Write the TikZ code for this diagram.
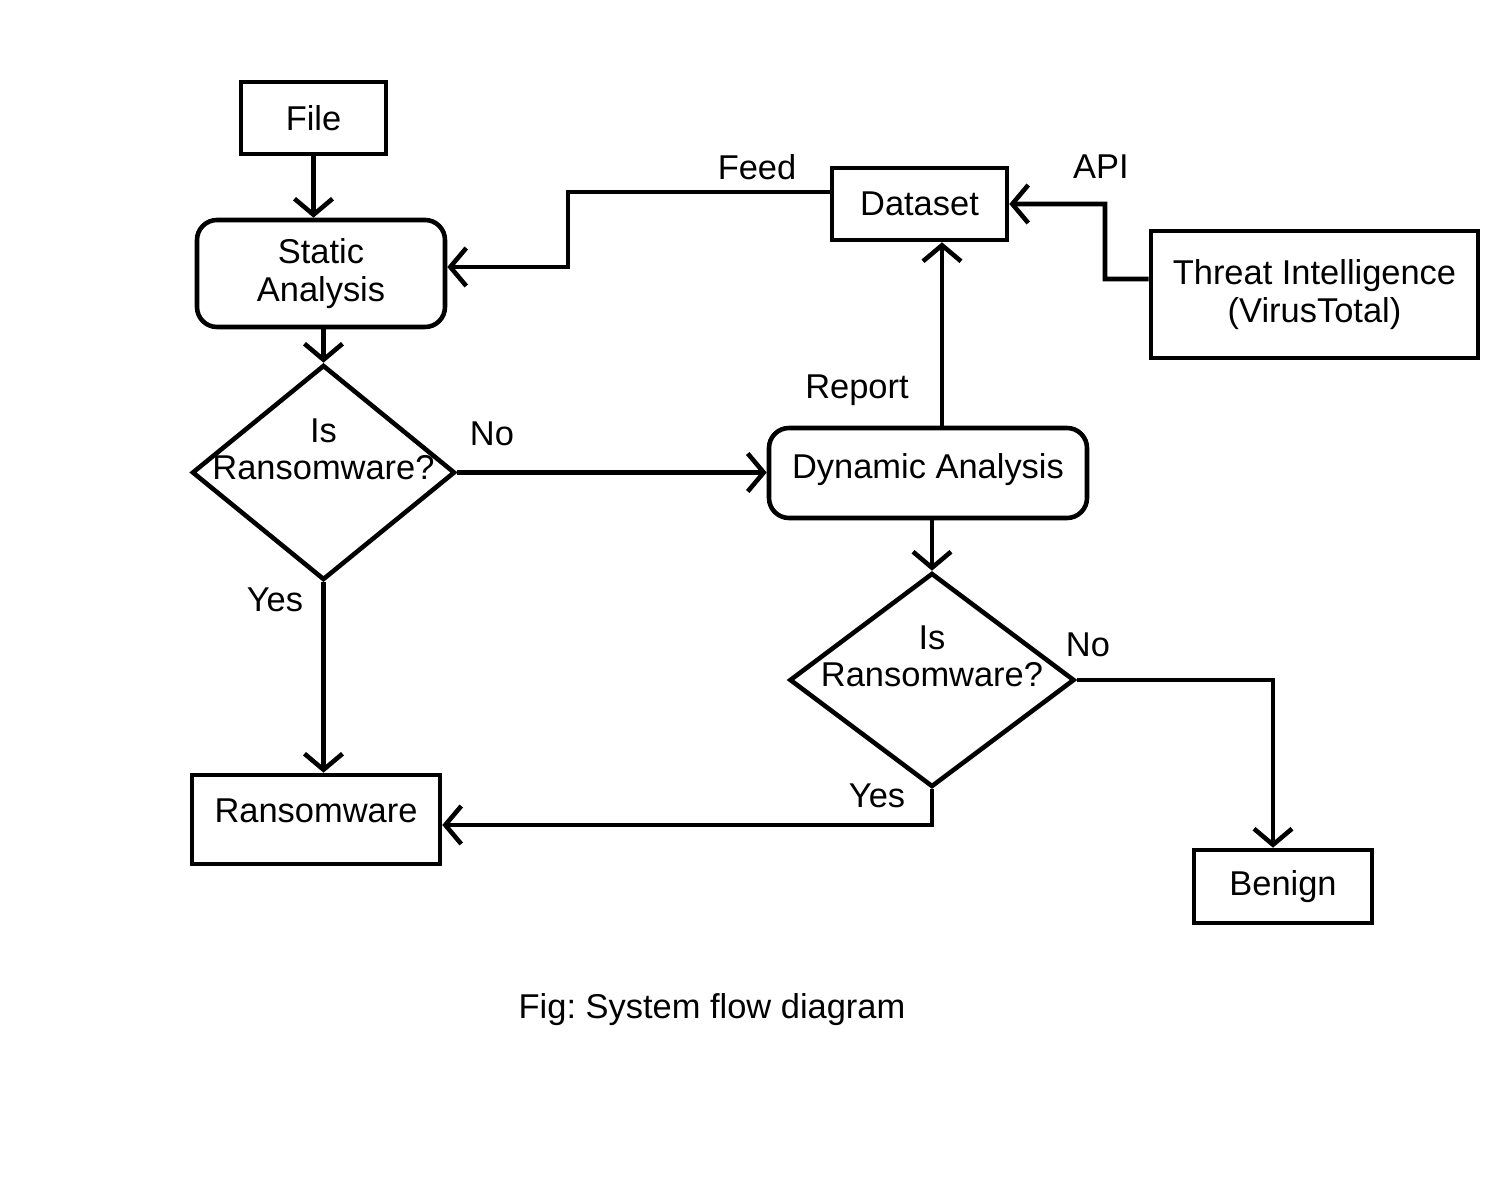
\documentclass[tikz,border=0pt]{standalone}
\usepackage{fontspec}
\setmainfont{Liberation Sans}
\usetikzlibrary{arrows.meta,shapes.geometric}
\frenchspacing

\begin{document}
\begin{tikzpicture}[>={Straight Barb[length=0.16cm,width=0.38cm]},
                    every node/.style={font=\fontsize{9.8}{10.6}\selectfont},
                    box/.style={draw,line width=1.3pt,inner sep=0pt},
                    roundbox/.style={box,rounded corners=0.2cm},
                    decision/.style={draw,line width=1.3pt,diamond,inner sep=0pt},
                    flow/.style={->,line width=1.3pt}]
                    \useasboundingbox (0,0) rectangle (15.03,12);
                    % boxes
                    \node (file) at (3.135,10.82) [box,minimum width=1.45cm,minimum height=0.72cm]{File};
                    \node (static) at (3.21,9.265) [roundbox,align=center,minimum width=2.48cm,minimum height=1.07cm]{Static\\Analysis};
                    \node (dia1) at (3.235,7.275) [decision,minimum width=2.63cm,minimum height=2.15cm,
                      label={[align=center,yshift=0.23cm]center:Is\\Ransomware?}]{};
                    \node (dyn) at (9.28,7.27) [roundbox,minimum width=3.18cm,minimum height=0.90cm,text height=0.25cm,text depth=0.14cm]{Dynamic Analysis};
                    \node (dataset) at (9.195,9.96) [box,minimum width=1.75cm,minimum height=0.72cm]{Dataset};
                    \node (threat) at (13.145,9.055) [box,align=center,minimum width=3.27cm,minimum height=1.27cm]{Threat Intelligence\\(VirusTotal)};
                    \node (dia2) at (9.32,5.2) [decision,minimum width=2.85cm,minimum height=2.14cm,
                      label={[align=center,yshift=0.235cm]center:Is\\Ransomware?}]{};
                    \node (rans) at (3.16,3.805) [box,minimum width=2.48cm,minimum height=0.89cm,text height=0.25cm,text depth=0.19cm]{Ransomware};
                    \node (benign) at (12.83,3.135) [box,minimum width=1.78cm,minimum height=0.73cm]{Benign};
                    % labels
                    \node (feed) at (7.57,10.33) {Feed};
                    \node (api) at (11.01,10.33) {API};
                    \node (report) at (8.57,8.1) {Report};
                    \node (no1) at (4.92,7.66) {No};
                    \node (yes1) at (2.75,6.0) {Yes};
                    \node (no2) at (10.88,5.55) {No};
                    \node (yes2) at (8.77,4.04) {Yes};
                    \node (caption) at (7.12,1.9) {Fig: System flow diagram};
                    \coordinate (feedturn) at (5.68,9.33);
                    \coordinate (apiturn) at (11.05,9.21);
                    % connectors
                    \draw[flow] (file.south) -- (file.south |- static.north);
                    \draw[flow] (dia1.north |- static.south) -- (dia1.north);
                    \draw[flow] (dia1.east) -- (dia1.east -| dyn.west);
                    \draw[flow] (dia1.south) -- (dia1.south |- rans.north);
                    \draw[flow] ([xshift=0.14cm]dyn.north) -- ([xshift=0.14cm]dyn.north |- dataset.south);
                    \draw[flow] ([yshift=0.12cm]dataset.west) -| (feedturn) -- (feedturn -| static.east);
                    \draw[flow] ([yshift=0.155cm]threat.west) -- (apiturn) |- (dataset.east);
                    \draw[flow] (dia2.north |- dyn.south) -- (dia2.north);
                    \draw[flow] (dia2.east) -| ([xshift=-0.1cm]benign.north);
                    \draw[flow] (dia2.south) |- ([yshift=-0.055cm]rans.east);
                  \end{tikzpicture}
\end{document}
